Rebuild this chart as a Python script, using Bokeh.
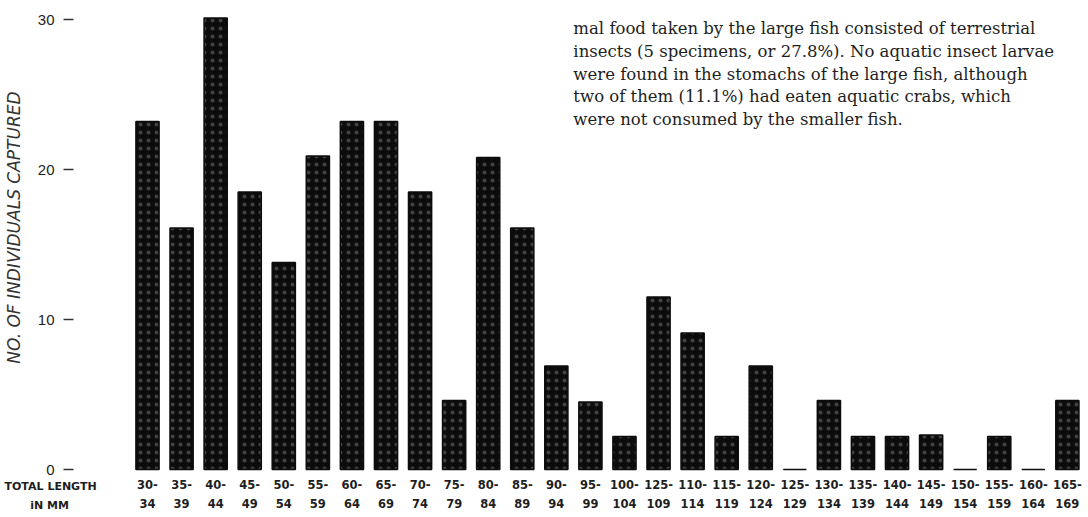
import math
from bokeh.plotting import figure
from bokeh.models import Range1d, LinearAxis, FixedTicker, Label, ColumnDataSource
from bokeh.embed import file_html
from bokeh.resources import INLINE

# ---- data ----
range_low = ["30-", "35-", "40-", "45-", "50-", "55-", "60-", "65-", "70-", "75-",
             "80-", "85-", "90-", "95-", "100-", "125-", "110-", "115-", "120-", "125-",
             "130-", "135-", "140-", "145-", "150-", "155-", "160-", "165-"]
range_high = ["34", "39", "44", "49", "54", "59", "64", "69", "74", "79",
              "84", "89", "94", "99", "104", "109", "114", "119", "124", "129",
              "134", "139", "144", "149", "154", "159", "164", "169"]
counts = [23.2, 16.1, 30.1, 18.5, 13.8, 20.9, 23.2, 23.2, 18.5, 4.6,
          20.8, 16.1, 6.9, 4.5, 2.2, 11.5, 9.1, 2.2, 6.9, 0,
          4.6, 2.2, 2.2, 2.3, 0, 2.2, 0, 4.6]
y_ticks = [0, 10, 20, 30]
y_title = "NO. OF INDIVIDUALS CAPTURED"
x_title_1 = "TOTAL LENGTH"
x_title_2 = "iN MM"
paragraph = [
    "mal food taken by the large fish consisted of terrestrial",
    "insects (5 specimens, or 27.8%). No aquatic insect larvae",
    "were found in the stomachs of the large fish, although",
    "two of them (11.1%) had eaten aquatic crabs, which",
    "were not consumed by the smaller fish.",
]

xs = list(range(len(counts)))
src = ColumnDataSource(dict(x=xs, top=counts))

INK = "#0c0c0c"
TXT = "#1e1e1e"

p = figure(width=1088, height=517, output_backend="svg", toolbar_location=None,
           x_axis_type=None, y_axis_type=None,
           x_range=Range1d(-4.315, 27.62), y_range=Range1d(-3.2, 31.27),
           min_border_left=0, min_border_right=0, min_border_top=0, min_border_bottom=0)
p.outline_line_color = None
p.background_fill_color = "white"
p.border_fill_color = "white"

p.vbar(x="x", top="top", width=0.68, source=src,
       fill_color=INK, line_color=INK, line_width=1.5,
       hatch_pattern="dot", hatch_color="white", hatch_alpha=0.22,
       hatch_scale=8, hatch_weight=0.6)

# y axis, fixed at the left edge of the bars area
yax = LinearAxis(ticker=FixedTicker(ticks=y_ticks), fixed_location=-2.172)
yax.axis_line_color = None
yax.major_tick_out = 10
yax.major_tick_in = 0
yax.major_tick_line_color = "#333333"
yax.major_tick_line_width = 1.5
yax.minor_tick_line_color = None
yax.major_label_standoff = 9
yax.major_label_text_font = "Liberation Sans"
yax.major_label_text_font_size = "15px"
yax.major_label_text_color = TXT
p.add_layout(yax, "left")

# x axes (two lines of labels)
def make_xaxis(labels, standoff):
    ax = LinearAxis(ticker=FixedTicker(ticks=xs), fixed_location=0,
                    major_label_overrides={i: lab for i, lab in enumerate(labels)})
    ax.axis_line_color = None
    ax.major_tick_line_color = None
    ax.minor_tick_line_color = None
    ax.major_tick_out = 0
    ax.major_tick_in = 0
    ax.major_label_standoff = standoff
    ax.major_label_text_font = "DejaVu Sans"
    ax.major_label_text_font_style = "bold"
    ax.major_label_text_font_size = "11.5px"
    ax.major_label_text_color = TXT
    return ax

p.add_layout(make_xaxis(range_low, 10), "below")
p.add_layout(make_xaxis(range_high, 29), "below")

# y-axis title
p.add_layout(Label(x=-3.933, y=16.13, text=y_title, angle=math.pi / 2,
                   text_font="DejaVu Sans", text_font_style="italic",
                   text_font_size="17px", text_color="#333333",
                   text_baseline="middle", text_align="center"))

# left-hand titles of the x axis rows
p.add_layout(Label(x=-4.197, y=-1.13, text=x_title_1, text_font="DejaVu Sans",
                   text_font_style="bold", text_font_size="11px",
                   text_color=TXT, text_baseline="middle", text_align="left"))
p.add_layout(Label(x=-2.876, y=-2.4, text=x_title_2, text_font="DejaVu Sans",
                   text_font_style="bold", text_font_size="11px",
                   text_color=TXT, text_baseline="middle", text_align="center"))

# paragraph text in the upper right
para_y = [29.4, 27.87, 26.33, 24.87, 23.33]
for line, yy in zip(paragraph, para_y):
    p.add_layout(Label(x=12.5, y=yy, text=line, text_font="DejaVu Serif",
                       text_font_size="16.5px", text_color=TXT,
                       text_baseline="middle", text_align="left"))

open("out.html", "w").write(file_html(p, INLINE))
